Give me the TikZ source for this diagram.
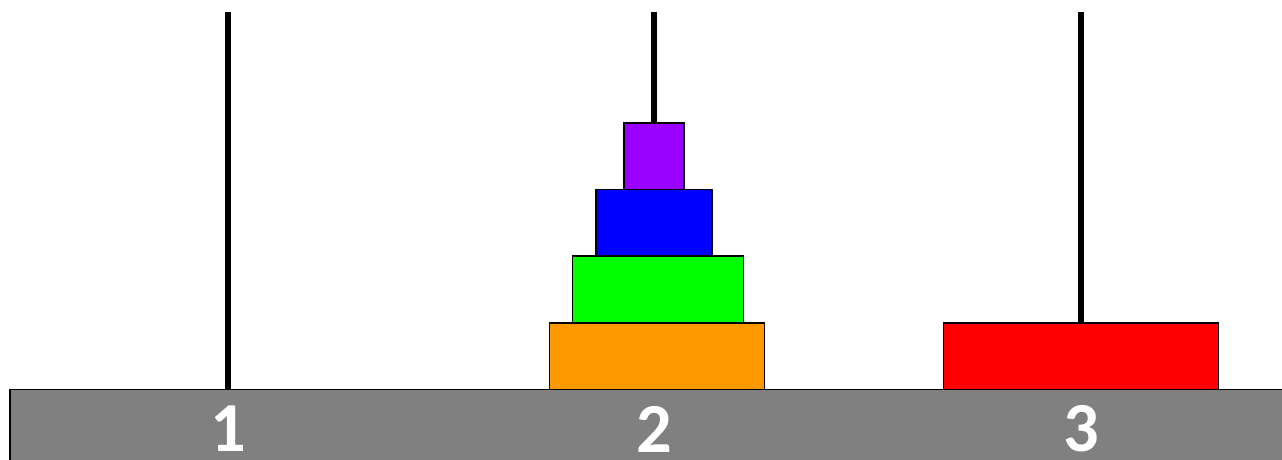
\documentclass[tikz,border=0pt]{standalone}
\usepackage{fontspec}
\setmainfont{Carlito}
\usepackage{xcolor}
\usetikzlibrary{positioning}

\definecolor{diskorange}{RGB}{255,153,0}
\definecolor{diskgreen}{RGB}{0,255,0}
\definecolor{diskblue}{RGB}{0,0,255}
\definecolor{diskpurple}{RGB}{153,0,255}
\definecolor{diskred}{RGB}{255,0,0}
\definecolor{basegray}{RGB}{128,128,128}

\begin{document}
\begin{tikzpicture}[
    x=0.02cm, y=-0.02cm,
    disk/.style={draw, line width=1pt, minimum height=1.333cm, inner sep=0pt, outer sep=0pt},
    peg/.style={line width=3.9pt},
    pegnum/.style={text=white, inner sep=0pt, font=\fontsize{40}{40}\selectfont\bfseries}
]
\useasboundingbox (0,0) rectangle (1282,460);
\clip (0,0) rectangle (1282,460);

% Base
\draw[fill=basegray, line width=1pt] (10,389.5) rectangle (1300,480);

% Pegs
\coordinate (top1) at (228,12);
\coordinate (top2) at (654,12);
\coordinate (top3) at (1081,12);
\coordinate (foot1) at (228,389.5);
\coordinate (foot2) at (654,389.5);
\coordinate (foot3) at (1081,389.5);
\draw[peg] (top1) -- (foot1);
\draw[peg] (top2) -- (foot2);
\draw[peg] (top3) -- (foot3);

% Disks
\node[disk, fill=diskorange, minimum width=4.3cm, anchor=south, xshift=0.06cm] (d4) at (foot2) {};
\node[disk, fill=diskgreen, minimum width=3.42cm, above=0pt of d4, xshift=0.02cm] (d3) {};
\node[disk, fill=diskblue, minimum width=2.32cm, above=0pt of d3, xshift=-0.08cm] (d2) {};
\node[disk, fill=diskpurple, minimum width=1.2cm, above=0pt of d2] (d1) {};
\node[disk, fill=diskred, minimum width=5.5cm, anchor=south] (d5) at (foot3) {};

% Peg numbers
\node[pegnum] (n1) at (228,429) {1};
\node[pegnum] (n2) at (654,429) {2};
\node[pegnum] (n3) at (1081,429) {3};

\end{tikzpicture}
\end{document}
